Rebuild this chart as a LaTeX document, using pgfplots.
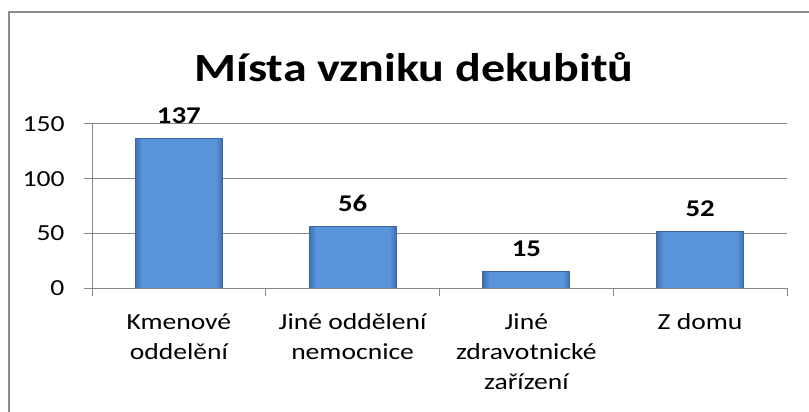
\documentclass[border=0pt]{standalone}
\usepackage{pgfplots}
\pgfplotsset{compat=1.18}
\usepackage{fontspec}
\setmainfont{Carlito}[FakeStretch=1.2]
\definecolor{axisgray}{HTML}{868686}
\definecolor{framegray}{HTML}{8C8C8C}
\definecolor{barmid}{HTML}{5A95DC}
\definecolor{baredge}{HTML}{3E70B2}
\definecolor{bardark}{HTML}{3A68A4}
\pgfdeclareverticalshading{barshade}{100bp}{color(0bp)=(baredge); color(25bp)=(baredge); color(29bp)=(barmid); color(71bp)=(barmid); color(75bp)=(baredge); color(100bp)=(baredge)}
\begin{document}
\begin{tikzpicture}
\path[use as bounding box] (0,0) rectangle (809bp,412bp);
\draw[framegray, line width=2bp] (9bp,0) -- (9bp,400bp) -- (809bp,400bp);
\node[anchor=base, font=\fontsize{40bp}{44bp}\selectfont\bfseries] at (414bp,330bp) {Místa vzniku dekubitů};
\begin{axis}[
  at={(92bp,124bp)}, anchor=south west,
  scale only axis, width=695bp, height=164bp,
  xmin=-0.5, xmax=3.5, ymin=0, ymax=150,
  axis lines*=left,
  axis line style={axisgray, line width=1bp},
  xtick={-0.5,0.5,1.5,2.5,3.5},
  x tick label as interval,
  xticklabels={{Kmenové\\oddelění},{Jiné oddělení\\nemocnice},{Jiné\\zdravotnické\\zařízení},{Z domu}},
  xticklabel style={align=center, font=\fontsize{23bp}{30bp}\selectfont, anchor=north, yshift=-14bp},
  ytick={0,50,100,150},
  yticklabel style={font=\fontsize{23bp}{28bp}\selectfont, xshift=-16bp},
  /pgf/number format/assume math mode=true,
  tick align=outside,
  major tick length=8bp,
  tick style={axisgray, line width=1bp},
  ymajorgrids,
  grid style={axisgray, line width=1bp},
  bar width=87bp,
  barstyle/.style={ybar, bar shift=0pt, draw=bardark, line width=0.8bp,
     shading=barshade, shading angle=90,
     nodes near coords,
     every node near coord/.append style={font=\fontsize{24bp}{28bp}\selectfont\bfseries, anchor=base, yshift=15bp, black}},
]
\addplot[barstyle] coordinates {(0,137)};
\addplot[barstyle] coordinates {(1,56)};
\addplot[barstyle] coordinates {(2,15)};
\addplot[barstyle] coordinates {(3,52)};
\end{axis}
\end{tikzpicture}
\end{document}
